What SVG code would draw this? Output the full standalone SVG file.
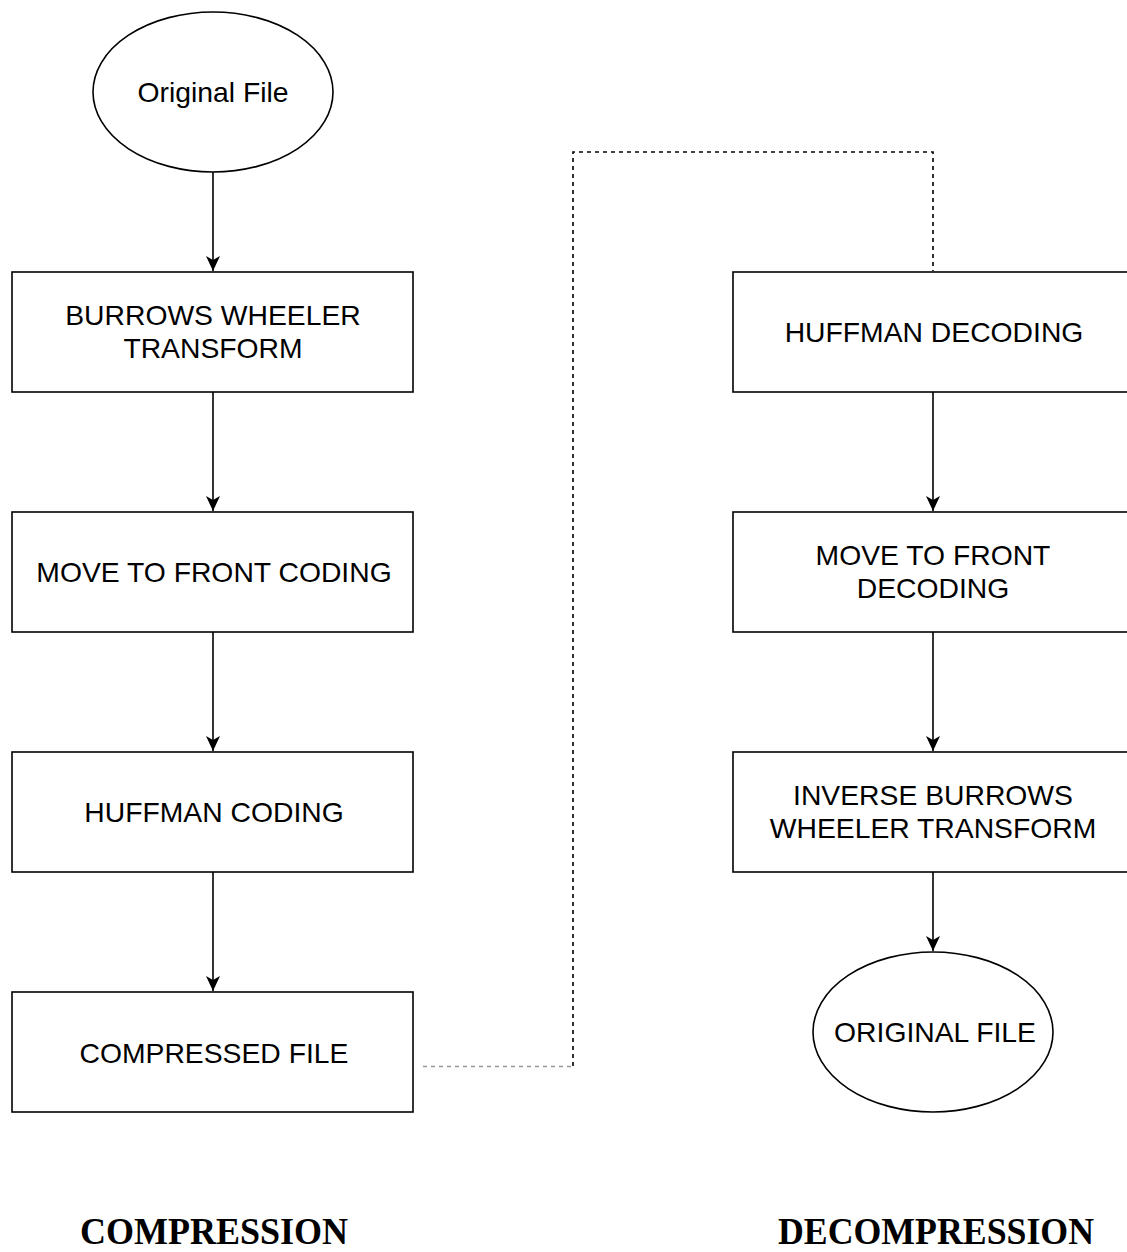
<svg xmlns="http://www.w3.org/2000/svg" width="1127" height="1252" viewBox="0 0 1127 1252">
<defs>
<marker id="arr" viewBox="0 0 15 14" refX="15" refY="7" markerWidth="15" markerHeight="14" markerUnits="userSpaceOnUse" orient="auto">
<path d="M0,0 L15,7 L0,14 L4,7 Z" fill="#000"/>
</marker>
<style>
.box{fill:#fff;stroke:#000;stroke-width:1.6}
.t{font-family:"Liberation Sans",Arial,sans-serif;font-size:28.3px;fill:#000;text-anchor:middle}
.e{stroke:#000;stroke-width:1.6;fill:none}
.d{stroke:#000;stroke-width:1.6;fill:none;stroke-dasharray:4 4}
.h{font-family:"Liberation Serif","Times New Roman",serif;font-weight:bold;font-size:38px;fill:#000;text-anchor:middle}
</style>
</defs>
<rect width="1127" height="1252" fill="#fff"/>
<g id="connectors">
<line class="e" x1="213" y1="172" x2="213" y2="271" marker-end="url(#arr)"/>
<line class="e" x1="213" y1="392" x2="213" y2="511" marker-end="url(#arr)"/>
<line class="e" x1="213" y1="632" x2="213" y2="751" marker-end="url(#arr)"/>
<line class="e" x1="213" y1="872" x2="213" y2="991" marker-end="url(#arr)"/>
<line class="e" x1="933" y1="392" x2="933" y2="511" marker-end="url(#arr)"/>
<line class="e" x1="933" y1="632" x2="933" y2="751" marker-end="url(#arr)"/>
<line class="e" x1="933" y1="872" x2="933" y2="951" marker-end="url(#arr)"/>
<path d="M423,1066.5 L573,1066.5" fill="none" stroke="#999" stroke-width="1.6" stroke-dasharray="4 4"/>
<path class="d" d="M573,1066 L573,152 L933,152 L933,271"/>
</g>
<g id="original-file">
<ellipse class="box" cx="213" cy="92" rx="120" ry="80"/>
<text class="t" x="213" y="102">Original File</text>
</g>
<g id="bwt">
<rect class="box" x="12" y="272" width="401" height="120"/>
<text class="t" x="213" y="325">BURROWS WHEELER</text>
<text class="t" x="213" y="358">TRANSFORM</text>
</g>
<g id="mtf">
<rect class="box" x="12" y="512" width="401" height="120"/>
<text class="t" x="214" y="582">MOVE TO FRONT CODING</text>
</g>
<g id="huffman">
<rect class="box" x="12" y="752" width="401" height="120"/>
<text class="t" x="214" y="822">HUFFMAN CODING</text>
</g>
<g id="compressed">
<rect class="box" x="12" y="992" width="401" height="120"/>
<text class="t" x="214" y="1063">COMPRESSED FILE</text>
</g>
<g id="huffman-dec">
<rect class="box" x="733" y="272" width="401" height="120"/>
<text class="t" x="934" y="342">HUFFMAN DECODING</text>
</g>
<g id="mtf-dec">
<rect class="box" x="733" y="512" width="401" height="120"/>
<text class="t" x="933" y="565">MOVE TO FRONT</text>
<text class="t" x="933" y="598">DECODING</text>
</g>
<g id="ibwt">
<rect class="box" x="733" y="752" width="401" height="120"/>
<text class="t" x="933" y="805">INVERSE BURROWS</text>
<text class="t" x="933" y="838">WHEELER TRANSFORM</text>
</g>
<g id="original-file-out">
<ellipse class="box" cx="933" cy="1032" rx="120" ry="80"/>
<text class="t" x="935" y="1042">ORIGINAL FILE</text>
</g>
<g id="labels">
<text class="h" x="214" y="1244" textLength="268" lengthAdjust="spacingAndGlyphs">COMPRESSION</text>
<text class="h" x="936" y="1244" textLength="316" lengthAdjust="spacingAndGlyphs">DECOMPRESSION</text>
</g>
</svg>
